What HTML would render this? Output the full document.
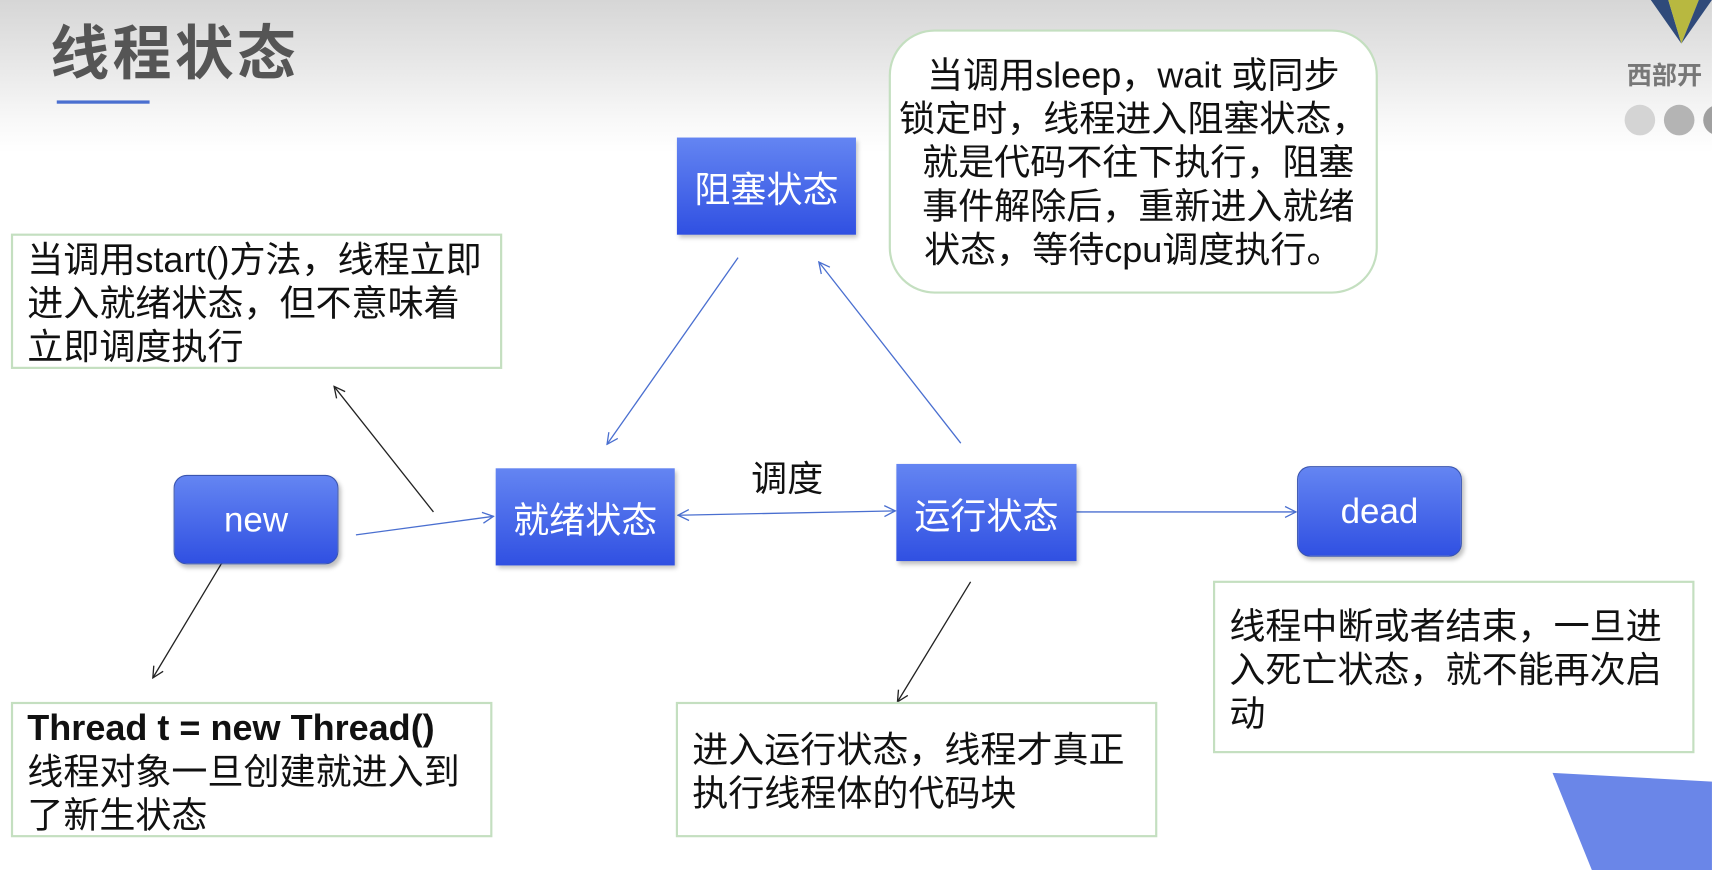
<!DOCTYPE html>
<html><head><meta charset="utf-8"><style>
html,body{margin:0;padding:0;width:1712px;height:870px;overflow:hidden;background:#fff}
#s{position:absolute;left:0;top:0;width:1568px;height:797px;transform:scale(1.0918,1.0916);transform-origin:0 0;
background:linear-gradient(#d6d6d6 0px,#e8e8e8 60px,#f8f8f8 110px,#fff 140px);font-family:"Liberation Sans","Noto Sans CJK SC",sans-serif}
.a{position:absolute;box-sizing:border-box;white-space:nowrap}
.st{background:linear-gradient(#6485f2,#3050e2);color:#fff;font-size:33px;display:flex;align-items:center;justify-content:center;box-shadow:2px 3px 4px rgba(0,0,0,.25)}
.nt{border:2px solid #c4dfc0;background:#fff;font-size:33px;line-height:40px;color:#111}
</style></head><body><div id="s">
<div class="a" style="left:46px;top:5px;font-size:54px;font-weight:bold;color:#555;letter-spacing:3px">线程状态</div>
<div class="a" style="left:52px;top:92px;width:85px;height:3px;background:#4a6fd0"></div>
<svg class="a" style="left:0;top:0" width="1568" height="797">
<polygon points="1512,0 1528,0 1540,40" fill="#2f4a7a"/>
<polygon points="1528,0 1556,0 1540,40" fill="#b8b840"/>
<polygon points="1556,0 1568,0 1540,40" fill="#2f4a7a"/>
<circle cx="1502" cy="110" r="14" fill="#d4d4d4"/><circle cx="1538" cy="110" r="14" fill="#b4b4b4"/><circle cx="1574" cy="110" r="14" fill="#a0a0a0"/>
<polygon points="1422,708 1568,716 1568,797 1458,797" fill="#6a86e8"/>
<defs><marker id="mb" markerWidth="12" markerHeight="12" refX="11" refY="6" orient="auto" markerUnits="userSpaceOnUse"><path d="M1,1 L11,6 L1,11" fill="none" stroke="#4a6fd0" stroke-width="1.2"/></marker>
<marker id="mb2" markerWidth="12" markerHeight="12" refX="1" refY="6" orient="auto" markerUnits="userSpaceOnUse"><path d="M11,1 L1,6 L11,11" fill="none" stroke="#4a6fd0" stroke-width="1.2"/></marker>
<marker id="mk" markerWidth="12" markerHeight="12" refX="11" refY="6" orient="auto" markerUnits="userSpaceOnUse"><path d="M1,1 L11,6 L1,11" fill="none" stroke="#222" stroke-width="1.2"/></marker></defs>
<g stroke="#4a6fd0" stroke-width="1.2" fill="none">
<line x1="676" y1="236" x2="556" y2="407" marker-end="url(#mb)"/>
<line x1="880" y1="406" x2="750" y2="240" marker-end="url(#mb)"/>
<line x1="326" y1="490" x2="452" y2="473" marker-end="url(#mb)"/>
<line x1="621" y1="472" x2="820" y2="468" marker-start="url(#mb2)" marker-end="url(#mb)"/>
<line x1="986" y1="469" x2="1187" y2="469" marker-end="url(#mb)"/>
</g>
<g stroke="#222" stroke-width="1.2" fill="none">
<line x1="397" y1="469" x2="306" y2="354" marker-end="url(#mk)"/>
<line x1="206" y1="511" x2="140" y2="621" marker-end="url(#mk)"/>
<line x1="889" y1="533" x2="822" y2="643" marker-end="url(#mk)"/>
</g>
</svg>
<div class="a" style="left:1490px;top:50px;font-size:23px;font-weight:bold;color:#777">西部开</div>
<div class="a st" style="left:620px;top:126px;width:164px;height:89px">阻塞状态</div>
<div class="a st" style="left:454px;top:429px;width:164px;height:89px">就绪状态</div>
<div class="a st" style="left:821px;top:425px;width:165px;height:89px">运行状态</div>
<div class="a st" style="left:159px;top:435px;width:151px;height:82px;border-radius:12px;border:1px solid #3a55b0;font-size:32px">new</div>
<div class="a st" style="left:1188px;top:427px;width:151px;height:83px;border-radius:12px;border:1px solid #3a55b0;font-size:32px">dead</div>
<div class="a" style="left:688px;top:412px;font-size:33px;color:#111">调度</div>
<div class="a nt" style="left:814px;top:27px;width:448px;height:242px;border-radius:42px;padding:20px 0 0 0;text-align:center">当调用sleep，wait 或同步<br>锁定时，线程进入阻塞状态，<br>&nbsp;就是代码不往下执行，阻塞<br>&nbsp;事件解除后，重新进入就绪<br>状态，等待cpu调度执行。</div>
<div class="a nt" style="left:10px;top:214px;width:450px;height:124px;padding:2px 0 0 13px">当调用start()方法，线程立即<br>进入就绪状态，但不意味着<br>立即调度执行</div>
<div class="a nt" style="left:10px;top:643px;width:441px;height:124px;padding:2px 0 0 13px"><b>Thread t = new Thread()</b><br>线程对象一旦创建就进入到<br>了新生状态</div>
<div class="a nt" style="left:619px;top:643px;width:441px;height:124px;padding:22px 0 0 13px">进入运行状态，线程才真正<br>执行线程体的代码块</div>
<div class="a nt" style="left:1111px;top:532px;width:441px;height:158px;padding:20px 0 0 13px">线程中断或者结束，一旦进<br>入死亡状态，就不能再次启<br>动</div>
</div></body></html>
